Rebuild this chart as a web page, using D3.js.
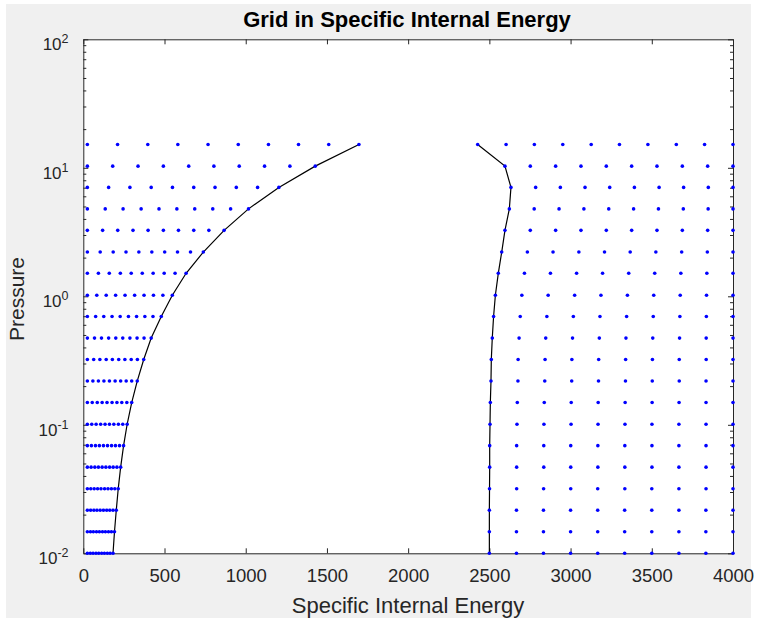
<!DOCTYPE html>
<html>
<head>
<meta charset="utf-8">
<script src="https://cdn.jsdelivr.net/npm/d3@7"></script>
<style>
  body { margin: 0; background: #fff; }
  svg { font-family: "Liberation Sans", Arial, Helvetica, sans-serif; }
</style>
</head>
<body>
<svg id="chart" width="757" height="622"></svg>
<script>
'use strict';

// pressure levels of the grid rows (bottom to top)
const pressure = [0.01, 0.0147, 0.0216, 0.0318, 0.0468, 0.0688, 0.101, 0.149, 0.219, 0.322,
  0.473, 0.696, 1.02, 1.51, 2.21, 3.26, 4.79, 7.04, 10.3, 15.2];

// saturation curves (black lines)
const uLiquid = [183, 192, 203, 215, 230, 248, 270, 298, 332, 372,
  418, 480, 548, 633, 739, 867, 1017, 1204, 1428, 1697];
const uVapor = [2500, 2500, 2500, 2501, 2502, 2502, 2504, 2506, 2510, 2512,
  2518, 2526, 2537, 2555, 2576, 2596, 2623, 2633, 2596, 2428];

// grid points, one row per pressure level
const liquidGrid = [
  [25, 43, 60, 78, 95, 113, 130, 148, 165, 183],
  [25, 44, 62, 81, 99, 118, 136, 155, 173, 192],
  [25, 45, 65, 84, 104, 124, 144, 163, 183, 203],
  [25, 46, 67, 88, 109, 131, 152, 173, 194, 215],
  [25, 48, 71, 93, 116, 139, 162, 184, 207, 230],
  [25, 50, 75, 99, 124, 149, 174, 198, 223, 248],
  [25, 52, 79, 107, 134, 161, 188, 216, 243, 270],
  [25, 55, 86, 116, 146, 177, 207, 237, 268, 298],
  [25, 59, 93, 127, 161, 196, 230, 264, 298, 332],
  [25, 64, 102, 141, 179, 218, 256, 295, 333, 372],
  [25, 69, 112, 156, 200, 243, 287, 331, 374, 418],
  [25, 76, 126, 177, 227, 278, 328, 379, 429, 480],
  [25, 83, 141, 199, 257, 316, 374, 432, 490, 548],
  [25, 93, 160, 228, 295, 363, 430, 498, 565, 633],
  [25, 104, 184, 263, 342, 422, 501, 580, 660, 739],
  [25, 119, 212, 306, 399, 493, 586, 680, 773, 867],
  [25, 135, 245, 356, 466, 576, 686, 797, 907, 1017],
  [25, 156, 287, 418, 549, 680, 811, 942, 1073, 1204],
  [25, 181, 337, 493, 649, 804, 960, 1116, 1272, 1428],
  [25, 211, 397, 582, 768, 954, 1140, 1325, 1511, 1697],
];
const vaporGrid = [
  [2500, 2667, 2833, 3000, 3167, 3333, 3500, 3667, 3833, 4000],
  [2500, 2667, 2833, 3000, 3167, 3333, 3500, 3667, 3833, 4000],
  [2500, 2667, 2833, 3000, 3167, 3333, 3500, 3667, 3833, 4000],
  [2501, 2668, 2834, 3001, 3167, 3334, 3500, 3667, 3834, 4000],
  [2502, 2668, 2835, 3001, 3168, 3334, 3501, 3667, 3834, 4000],
  [2502, 2668, 2835, 3001, 3168, 3334, 3501, 3667, 3834, 4000],
  [2504, 2670, 2836, 3003, 3169, 3335, 3501, 3667, 3834, 4000],
  [2506, 2672, 2838, 3004, 3170, 3336, 3502, 3668, 3834, 4000],
  [2510, 2676, 2841, 3007, 3172, 3338, 3503, 3669, 3834, 4000],
  [2512, 2677, 2843, 3008, 3173, 3339, 3504, 3669, 3835, 4000],
  [2518, 2683, 2847, 3012, 3177, 3341, 3506, 3671, 3835, 4000],
  [2526, 2690, 2854, 3017, 3181, 3345, 3509, 3673, 3836, 4000],
  [2537, 2700, 2862, 3025, 3187, 3350, 3512, 3675, 3837, 4000],
  [2555, 2716, 2876, 3037, 3197, 3358, 3518, 3679, 3839, 4000],
  [2576, 2734, 2892, 3051, 3209, 3367, 3525, 3684, 3842, 4000],
  [2596, 2752, 2908, 3064, 3220, 3376, 3532, 3688, 3844, 4000],
  [2623, 2776, 2929, 3082, 3235, 3388, 3541, 3694, 3847, 4000],
  [2633, 2785, 2937, 3089, 3241, 3393, 3545, 3696, 3848, 4000],
  [2596, 2752, 2908, 3064, 3220, 3376, 3532, 3688, 3844, 4000],
  [2428, 2603, 2777, 2952, 3127, 3301, 3476, 3651, 3825, 4000],
];

const xTicks = [0, 500, 1000, 1500, 2000, 2500, 3000, 3500, 4000];
const yTicks = [0.01, 0.1, 1, 10, 100];

const svg = d3.select('#chart');
const axisColor = '#262626';
const mLeft = 83.3, mRight = 733, mTop = 39.3, mBottom = 553.3;

// figure and axes backgrounds
svg.append('rect').attr('x', 6).attr('y', 4).attr('width', 745).attr('height', 614).attr('fill', '#f0f0f0');
svg.append('rect').attr('x', mLeft).attr('y', mTop).attr('width', mRight - mLeft).attr('height', mBottom - mTop).attr('fill', '#fff');

const x = d3.scaleLinear().domain([0, 4000]).range([mLeft, mRight]);
const y = d3.scaleLog().domain([0.01, 100]).range([mBottom, mTop]);
const minor = y.ticks().filter(d => !yTicks.some(t => Math.abs(t - d) < 1e-9));

// x axes (bottom with labels, top without)
const gx = svg.append('g')
  .attr('transform', `translate(0,${mBottom})`)
  .call(d3.axisBottom(x).tickValues(xTicks).tickFormat(d3.format('d'))
    .tickSizeInner(-5).tickSizeOuter(0).tickPadding(16));
svg.append('g')
  .attr('transform', `translate(0,${mTop})`)
  .call(d3.axisTop(x).tickValues(xTicks).tickSizeInner(-5).tickSizeOuter(0).tickFormat(''));
gx.selectAll('text').style('font-size', '18.5px');

// y axes, major and minor ticks on both sides
svg.append('g')
  .attr('transform', `translate(${mLeft},0)`)
  .call(d3.axisLeft(y).tickValues(yTicks).tickSizeInner(-5).tickSizeOuter(0).tickFormat(''));
svg.append('g')
  .attr('transform', `translate(${mLeft},0)`)
  .call(d3.axisLeft(y).tickValues(minor).tickSizeInner(-3).tickSizeOuter(0).tickFormat(''))
  .select('.domain').remove();
svg.append('g')
  .attr('transform', `translate(${mRight},0)`)
  .call(d3.axisRight(y).tickValues(yTicks).tickSizeInner(-5).tickSizeOuter(0).tickFormat(''));
svg.append('g')
  .attr('transform', `translate(${mRight},0)`)
  .call(d3.axisRight(y).tickValues(minor).tickSizeInner(-3).tickSizeOuter(0).tickFormat(''))
  .select('.domain').remove();

svg.selectAll('.domain, .tick line').attr('stroke', axisColor);
svg.selectAll('.tick text').attr('fill', axisColor);

// y tick labels as 10^n
yTicks.forEach(d => {
  const t = svg.append('text')
    .attr('x', 68.5).attr('y', y(d) + 10.7)
    .attr('text-anchor', 'end')
    .attr('fill', axisColor);
  t.append('tspan').style('font-size', '17px').text('10');
  t.append('tspan').attr('dy', -7).style('font-size', '12.5px').text(Math.round(Math.log10(d)));
});

// saturation lines
const line = d3.line().x(d => x(d[0])).y(d => y(d[1]));
[uLiquid, uVapor].forEach(u => {
  svg.append('path')
    .datum(d3.zip(u, pressure))
    .attr('fill', 'none')
    .attr('stroke', '#000')
    .attr('stroke-width', 1.2)
    .attr('d', line);
});

// grid dots
const pts = [];
pressure.forEach((p, i) => {
  liquidGrid[i].forEach(u => pts.push([u, p]));
  vaporGrid[i].forEach(u => pts.push([u, p]));
});
svg.append('g').selectAll('circle')
  .data(pts)
  .join('circle')
  .attr('cx', d => x(d[0]))
  .attr('cy', d => y(d[1]))
  .attr('r', 1.8)
  .attr('fill', '#0000ff');

// title and labels
svg.append('text')
  .attr('x', 407).attr('y', 27)
  .attr('text-anchor', 'middle')
  .style('font-size', '22px').style('font-weight', 'bold')
  .text('Grid in Specific Internal Energy');
svg.append('text')
  .attr('x', 408).attr('y', 613)
  .attr('text-anchor', 'middle')
  .attr('fill', axisColor)
  .style('font-size', '22px')
  .text('Specific Internal Energy');
svg.append('text')
  .attr('transform', `translate(24,299) rotate(-90)`)
  .attr('text-anchor', 'middle')
  .attr('fill', axisColor)
  .style('font-size', '21px')
  .text('Pressure');
</script>
</body>
</html>
